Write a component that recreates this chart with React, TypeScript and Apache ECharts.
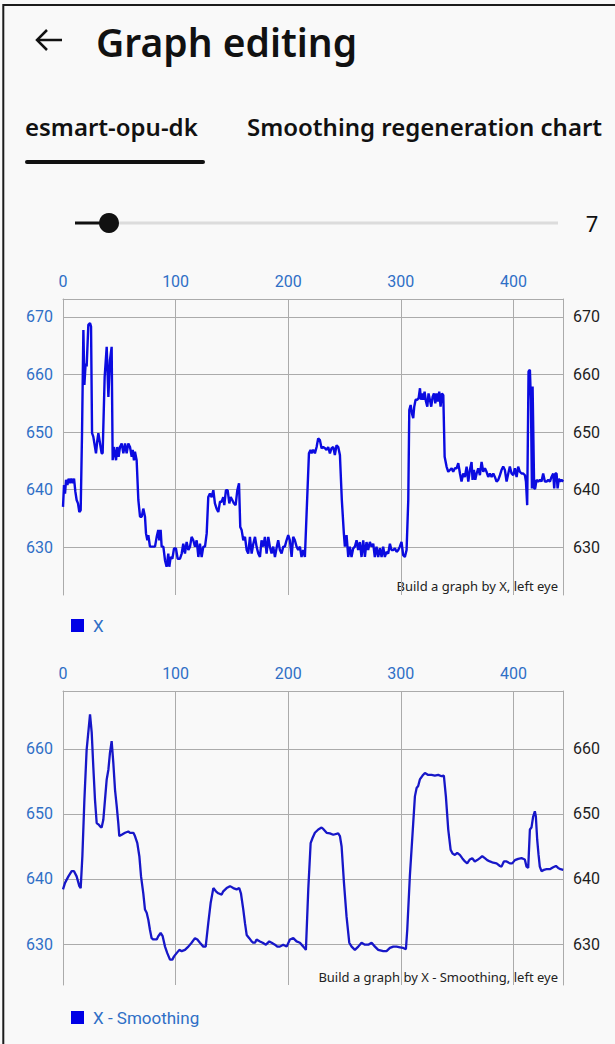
import React, { useEffect, useRef } from "react";
import * as echarts from "echarts";

// ---- Chart 1: raw X signal (x index, value) ----
const RAW_X = [
  0, 0.9, 1.8, 2.7, 3.9, 5.0, 6.2, 7.4, 8.6, 9.8, 11.0, 12.1, 13.3, 14.5, 15.7, 16.9, 18.1, 19.0, 20.1, 21.0,
  22.5, 24.0, 24.9, 25.8, 26.9, 28.4, 29.3, 30.5, 31.4, 32.9, 34.3, 35.2, 37.0, 38.8, 40.3, 41.7, 43.2, 44.1, 45.3, 47.1,
  48.2, 49.4, 50.6, 52.1, 53.6, 55.1, 56.5, 58.0, 59.5, 61.0, 61.9, 63.0, 63.9, 65.4, 66.9, 68.4, 69.9, 71.3, 72.8, 73.7,
  74.9, 75.8, 77.2, 80.2, 81.7, 83.2, 84.6, 85.5, 86.7, 87.6, 89.1, 90.6, 92.0, 93.5, 94.4, 95.6, 97.1, 98.6, 100.3, 101.8,
  103.9, 105.4, 106.8, 108.3, 109.8, 111.3, 112.8, 114.2, 115.7, 117.2, 118.7, 120.2, 121.6, 123.1, 124.6, 126.1, 127.6, 129.0, 130.5, 132.0,
  133.5, 134.9, 136.4, 137.9, 139.4, 140.9, 142.3, 143.2, 144.7, 146.2, 147.7, 148.9, 150.3, 151.8, 153.3, 154.8, 156.3, 157.4, 158.6, 160.1,
  161.6, 163.1, 164.5, 166.0, 167.5, 169.0, 170.5, 171.9, 173.4, 174.9, 176.3, 177.8, 179.3, 180.8, 182.3, 183.7, 185.2, 186.7, 188.2, 189.6,
  191.1, 192.6, 194.1, 195.6, 197.0, 198.5, 200.0, 201.5, 203.0, 204.4, 205.9, 207.4, 208.9, 210.4, 211.8, 213.3, 214.8, 216.3, 218.4, 219.8,
  220.7, 222.2, 223.7, 225.2, 226.6, 228.1, 229.6, 231.1, 232.6, 234.0, 235.5, 237.0, 238.5, 240.0, 241.4, 242.9, 244.4, 245.9, 247.6, 249.4,
  250.3, 251.8, 253.3, 254.7, 256.2, 257.7, 259.2, 260.7, 262.1, 263.6, 265.1, 266.6, 268.1, 269.5, 271.0, 272.5, 274.0, 275.5, 276.9, 278.4,
  279.9, 281.4, 282.9, 284.3, 285.8, 287.3, 288.8, 290.3, 291.7, 293.2, 294.7, 296.2, 297.7, 299.1, 300.6, 302.1, 303.6, 305.1, 306.6, 307.5,
  308.7, 309.9, 311.0, 311.9, 313.1, 314.6, 315.8, 317.0, 317.8, 319.0, 319.9, 321.1, 322.3, 323.5, 324.6, 325.8, 327.0, 328.2, 329.4, 330.6,
  331.7, 332.9, 334.1, 335.3, 336.5, 337.7, 338.9, 340.6, 342.1, 343.6, 345.1, 346.5, 348.0, 349.5, 351.0, 352.5, 353.9, 355.4, 356.9, 358.4,
  359.9, 361.3, 362.8, 363.7, 364.9, 366.1, 367.3, 368.7, 370.2, 371.7, 373.2, 374.7, 376.1, 377.6, 379.1, 380.6, 382.1, 383.5, 385.0, 386.5,
  388.0, 389.4, 390.9, 392.4, 393.9, 395.4, 396.8, 398.3, 399.8, 401.3, 402.8, 404.2, 405.7, 407.2, 408.7, 410.2, 411.1, 412.2, 413.4, 414.6,
  415.5, 416.4, 417.0, 417.6, 418.4, 419.3, 420.5, 422.0, 423.5, 424.9, 426.4, 427.9, 429.4, 430.9, 432.4, 433.8, 435.3, 436.2, 437.1, 438.3,
  439.2, 440.3, 441.5, 442.7, 444.2,
];
const RAW_Y = [
  637.0, 640.8, 639.3, 641.7, 640.8, 641.9, 641.1, 641.9, 641.1, 641.9, 639.6, 638.2, 637.6, 636.1, 636.4, 649.8, 667.7, 658.2, 661.9, 661.4,
  668.6, 668.9, 668.3, 649.8, 649.2, 647.4, 646.3, 648.6, 649.8, 648.0, 646.3, 646.3, 659.6, 664.8, 656.1, 662.5, 664.8, 645.1, 647.4, 645.1,
  647.4, 645.7, 647.4, 648.0, 646.3, 648.0, 646.3, 648.0, 647.4, 645.7, 646.9, 645.1, 646.6, 645.1, 638.2, 635.3, 635.3, 636.7, 635.3, 632.4,
  631.2, 632.1, 630.1, 630.1, 630.1, 631.8, 633.0, 631.2, 633.0, 630.1, 630.1, 627.7, 626.6, 628.9, 626.6, 628.3, 628.0, 629.8, 629.8, 628.0,
  628.0, 628.9, 630.6, 628.9, 630.9, 629.5, 630.1, 631.8, 631.2, 630.1, 631.2, 628.3, 630.6, 628.3, 630.1, 630.1, 632.4, 638.7, 639.3, 638.7,
  639.9, 637.6, 636.7, 636.1, 637.9, 637.9, 638.7, 637.3, 639.9, 639.9, 637.6, 638.7, 638.2, 637.6, 637.3, 639.9, 641.1, 633.5, 633.0, 631.2,
  631.8, 629.5, 628.9, 631.8, 628.9, 630.6, 631.8, 630.1, 628.9, 628.3, 631.2, 630.1, 631.8, 628.9, 631.8, 630.1, 628.9, 630.1, 628.3, 629.8,
  631.2, 629.5, 628.9, 630.1, 630.1, 631.2, 632.1, 631.2, 628.3, 631.8, 631.2, 630.1, 629.5, 630.1, 628.3, 629.5, 628.3, 635.8, 646.3, 646.9,
  646.3, 646.9, 646.3, 647.4, 648.9, 648.6, 647.2, 647.4, 647.2, 646.9, 647.4, 646.3, 647.2, 647.4, 646.0, 647.7, 647.4, 646.0, 638.2, 632.4,
  630.1, 632.1, 628.3, 630.1, 628.3, 629.8, 630.1, 631.2, 629.5, 630.9, 628.3, 631.2, 628.3, 630.9, 629.5, 630.9, 630.1, 630.6, 628.3, 630.1,
  628.3, 629.8, 628.3, 630.1, 628.3, 629.2, 628.9, 630.6, 629.5, 629.5, 629.8, 629.2, 629.5, 630.1, 630.9, 628.6, 628.3, 629.5, 638.2, 653.8,
  654.7, 653.2, 652.4, 654.4, 655.6, 655.6, 655.9, 657.6, 655.6, 656.7, 655.6, 657.0, 655.3, 654.4, 656.7, 655.6, 654.4, 656.1, 656.7, 655.0,
  656.7, 655.3, 657.0, 654.4, 656.7, 656.4, 645.7, 644.0, 643.1, 643.4, 643.7, 643.1, 643.7, 643.7, 644.6, 642.8, 641.4, 642.8, 642.2, 644.0,
  641.4, 643.4, 644.8, 641.7, 643.4, 641.7, 642.8, 643.7, 642.5, 644.8, 643.1, 643.7, 643.1, 642.2, 642.8, 642.2, 642.8, 642.2, 641.4, 641.7,
  642.5, 643.4, 644.0, 643.4, 641.4, 642.8, 644.0, 642.8, 642.5, 643.7, 642.2, 644.0, 643.1, 642.8, 642.8, 642.5, 641.4, 637.3, 660.5, 660.8,
  655.6, 640.2, 657.9, 657.9, 640.2, 640.2, 641.7, 641.4, 641.7, 641.4, 642.8, 641.4, 641.4, 641.7, 641.4, 642.2, 642.8, 640.2, 642.8, 642.8,
  640.2, 641.9, 641.4, 641.7, 641.4,
];

// ---- Chart 2: smoothed X signal ----
const SMOOTH_X = [
  0, 1.8, 4.8, 7.7, 9.8, 12.1, 14.5, 15.7, 17.2, 19.0, 21.0, 24.0, 25.5, 26.9, 28.4, 29.9, 31.4, 32.9, 34.3, 35.8,
  37.3, 38.8, 40.3, 41.7, 43.2, 44.7, 46.2, 47.7, 49.1, 50.0, 52.1, 55.1, 58.0, 59.5, 62.5, 63.9, 66.0, 67.8, 69.3, 71.3,
  72.8, 74.3, 75.8, 77.2, 78.7, 80.2, 83.2, 84.6, 86.7, 88.5, 90.6, 92.6, 95.0, 97.1, 98.6, 100.9, 103.3, 105.4, 108.3, 111.3,
  114.2, 117.2, 119.3, 121.6, 124.6, 126.7, 129.0, 131.1, 133.5, 135.8, 137.9, 140.9, 142.3, 145.3, 148.3, 151.2, 154.2, 156.5, 158.0, 160.1,
  161.6, 163.1, 165.4, 167.5, 169.0, 170.5, 171.9, 174.9, 177.3, 180.2, 183.2, 185.3, 188.2, 190.3, 192.6, 195.6, 198.6, 201.5, 204.5, 207.4,
  210.4, 213.4, 215.7, 217.8, 219.9, 221.6, 223.7, 226.7, 229.6, 231.1, 234.1, 237.0, 240.0, 244.4, 245.9, 247.4, 249.5, 251.8, 254.2, 256.3,
  259.2, 262.2, 265.1, 268.1, 271.1, 274.0, 277.0, 279.9, 284.4, 287.3, 290.3, 293.3, 296.2, 299.2, 302.1, 304.5, 305.7, 308.0, 311.0, 312.5,
  314.0, 315.4, 316.9, 319.3, 321.4, 324.3, 327.3, 330.2, 333.2, 336.2, 338.2, 340.0, 342.1, 344.2, 345.9, 348.0, 350.1, 352.4, 354.5, 356.9,
  358.9, 361.3, 363.4, 365.7, 367.8, 370.2, 372.3, 374.6, 376.7, 379.1, 382.0, 385.0, 388.0, 389.4, 391.5, 393.9, 396.8, 398.9, 401.3, 404.2,
  407.2, 410.1, 411.6, 413.1, 414.6, 416.0, 417.5, 419.0, 419.9, 421.1, 422.3, 423.4, 424.9, 427.0, 429.4, 432.3, 435.3, 437.7, 439.7, 441.8,
  444.2,
];
const SMOOTH_Y = [
  638.4, 639.4, 640.4, 641.2, 641.2, 640.4, 638.9, 638.6, 643.5, 652.2, 659.9, 665.3, 662.5, 657.3, 652.2, 648.6, 648.4, 648.1, 647.9, 649.1,
  652.2, 655.3, 656.8, 659.4, 661.2, 657.8, 653.7, 651.2, 648.6, 646.6, 646.8, 647.1, 647.3, 647.1, 647.1, 646.6, 645.5, 643.5, 640.4, 637.8,
  635.3, 634.8, 633.7, 632.2, 630.9, 630.7, 630.7, 631.2, 631.7, 631.2, 629.6, 628.6, 627.6, 627.6, 628.1, 628.6, 629.1, 628.9, 629.1, 629.6,
  630.2, 630.9, 630.7, 630.2, 629.6, 629.6, 633.2, 636.3, 638.6, 638.1, 637.8, 637.6, 638.1, 638.6, 638.9, 638.6, 638.4, 638.6, 637.8, 635.3,
  633.2, 631.4, 630.9, 630.4, 630.2, 630.2, 630.7, 630.4, 630.2, 629.9, 630.4, 630.2, 629.9, 629.6, 629.6, 629.9, 629.6, 630.7, 630.9, 630.4,
  630.2, 629.6, 629.1, 638.4, 645.5, 646.3, 647.1, 647.6, 647.9, 647.7, 647.1, 647.0, 646.8, 647.0, 646.6, 645.0, 639.4, 634.2, 630.2, 629.6,
  629.1, 629.6, 630.2, 629.9, 629.9, 630.2, 629.6, 629.1, 628.9, 628.9, 629.4, 629.6, 629.6, 629.5, 629.4, 629.2, 632.2, 640.4, 648.6, 652.7,
  654.0, 654.3, 655.3, 655.9, 656.3, 656.0, 656.0, 655.9, 656.0, 655.8, 655.9, 652.7, 647.6, 644.5, 643.9, 643.7, 644.0, 643.7, 643.2, 642.7,
  642.4, 643.0, 643.2, 642.7, 642.9, 643.2, 643.5, 643.2, 642.9, 642.7, 642.5, 642.4, 642.0, 641.9, 642.7, 642.7, 642.4, 642.4, 642.9, 643.1,
  643.2, 643.0, 641.9, 641.7, 647.6, 647.9, 649.6, 650.4, 649.6, 646.0, 643.7, 641.9, 641.2, 641.4, 641.5, 641.5, 641.8, 642.0, 641.7, 641.5,
  641.4,
];

const X_TICKS = [0, 100, 200, 300, 400];
const Y1_TICKS = [630, 640, 650, 660, 670];
const Y2_TICKS = [630, 640, 650, 660];
const SERIES_NAMES = ["X", "X - Smoothing"];
const NOTES = ["Build a graph by X, left eye", "Build a graph by X - Smoothing, left eye"];
const TABS = ["esmart-opu-dk", "Smoothing regeneration chart"];
const TITLE = "Graph editing";
const SLIDER_VALUE = "7";

const BLUE_LABEL = "#2f6fc6";
const GRID_GRAY = "#ababab";
const FONT = "Roboto";

function zip(xs: number[], ys: number[]) {
  return xs.map((x, i) => [x, ys[i]]);
}

export default function App() {
  const ref = useRef<HTMLDivElement>(null);
  useEffect(() => {
    if (!ref.current) return;
    const chart = echarts.init(ref.current, null, { renderer: "svg" });

    const xAxisBase = (gridIndex: number) => ({
      type: "value",
      gridIndex,
      position: "top",
      min: 0,
      max: 444,
      interval: 100,
      axisLine: { show: true, lineStyle: { color: GRID_GRAY, width: 1 } },
      axisTick: { show: false, customValues: X_TICKS },
      axisLabel: {
        color: BLUE_LABEL,
        fontSize: 16,
        fontFamily: FONT,
        margin: 10,
        customValues: X_TICKS,
      },
      splitLine: { show: true, lineStyle: { color: GRID_GRAY, width: 1 } },
    });

    const yLeft = (gridIndex: number, min: number, max: number, ticks: number[]) => ({
      type: "value",
      gridIndex,
      position: "left",
      min,
      max,
      axisLine: { show: true, lineStyle: { color: GRID_GRAY, width: 1 } },
      axisTick: { show: false, customValues: ticks },
      axisLabel: {
        color: BLUE_LABEL,
        fontSize: 16,
        fontFamily: FONT,
        margin: 10,
        customValues: ticks,
      },
      splitLine: { show: true, lineStyle: { color: GRID_GRAY, width: 1 } },
    });

    const yRight = (gridIndex: number, min: number, max: number, ticks: number[]) => ({
      type: "value",
      gridIndex,
      position: "right",
      min,
      max,
      axisLine: { show: true, lineStyle: { color: GRID_GRAY, width: 1 } },
      axisTick: { show: false, customValues: ticks },
      axisLabel: {
        color: "#1e1e1e",
        fontSize: 16,
        fontFamily: FONT,
        margin: 10,
        customValues: ticks,
      },
      splitLine: { show: false },
    });

    const legendBase = (name: string, top: number) => ({
      data: [name],
      left: 71,
      top,
      itemWidth: 13,
      itemHeight: 13,
      icon: "rect",
      padding: 0,
      textStyle: { color: BLUE_LABEL, fontSize: 17, fontFamily: FONT, padding: [0, 0, 0, 4] },
    });

    chart.setOption({
      animation: false,
      backgroundColor: "#f9f9f9",
      grid: [
        { left: 63, right: 52, top: 299, height: 296 },
        { left: 63, right: 52, top: 691, height: 294 },
      ],
      xAxis: [xAxisBase(0), xAxisBase(1)],
      yAxis: [
        yLeft(0, 621.7, 673.1, Y1_TICKS),
        yRight(0, 621.7, 673.1, Y1_TICKS),
        yLeft(1, 623.7, 668.9, Y2_TICKS),
        yRight(1, 623.7, 668.9, Y2_TICKS),
      ],
      legend: [legendBase(SERIES_NAMES[0], 617), legendBase(SERIES_NAMES[1], 1009)],
      series: [
        {
          name: SERIES_NAMES[0],
          type: "line",
          xAxisIndex: 0,
          yAxisIndex: 0,
          data: zip(RAW_X, RAW_Y),
          showSymbol: false,
          symbol: "none",
          color: "#0000e6",
          lineStyle: { color: "#0b0be0", width: 2.4 },
        },
        {
          name: SERIES_NAMES[1],
          type: "line",
          xAxisIndex: 1,
          yAxisIndex: 2,
          data: zip(SMOOTH_X, SMOOTH_Y),
          showSymbol: false,
          symbol: "none",
          color: "#0000e6",
          lineStyle: { color: "#1717c8", width: 2.3 },
        },
      ],
      graphic: [
        {
          type: "polyline",
          shape: { points: [[3.3, 1044], [3.3, 5], [615, 5]] },
          style: { stroke: "#1c1c1c", lineWidth: 2, fill: null },
          silent: true,
        },
        {
          type: "polyline",
          shape: { points: [[47, 30], [37, 40], [47, 50]] },
          style: { stroke: "#111", lineWidth: 2.5, fill: null },
        },
        {
          type: "line",
          shape: { x1: 37, y1: 40, x2: 62, y2: 40 },
          style: { stroke: "#111", lineWidth: 2.5 },
        },
        {
          type: "text",
          x: 96,
          y: 41,
          style: {
            text: TITLE,
            font: "600 39px 'Noto Sans'",
            fill: "#111",
            textVerticalAlign: "middle",
          },
        },
        {
          type: "text",
          x: 25,
          y: 126,
          style: {
            text: TABS[0],
            font: "600 24px 'Noto Sans'",
            fill: "#111",
            textVerticalAlign: "middle",
          },
        },
        {
          type: "text",
          x: 247,
          y: 126,
          style: {
            text: TABS[1],
            font: "600 24px 'Noto Sans'",
            fill: "#111",
            textVerticalAlign: "middle",
          },
        },
        {
          type: "rect",
          shape: { x: 25, y: 160, width: 180, height: 4, r: 2 },
          style: { fill: "#111" },
        },
        {
          type: "line",
          shape: { x1: 109, y1: 223, x2: 558, y2: 223 },
          style: { stroke: "#dcdcdc", lineWidth: 3 },
        },
        {
          type: "line",
          shape: { x1: 75, y1: 223, x2: 109, y2: 223 },
          style: { stroke: "#111", lineWidth: 3 },
        },
        {
          type: "circle",
          shape: { cx: 109, cy: 223, r: 10 },
          style: { fill: "#111" },
        },
        {
          type: "text",
          x: 592,
          y: 223,
          style: {
            text: SLIDER_VALUE,
            font: "400 22px 'Noto Sans'",
            fill: "#111",
            textAlign: "center",
            textVerticalAlign: "middle",
          },
        },
        {
          type: "text",
          x: 558,
          y: 586,
          style: {
            text: NOTES[0],
            font: "400 13px 'Noto Sans'",
            fill: "#222",
            textAlign: "right",
            textVerticalAlign: "middle",
          },
        },
        {
          type: "text",
          x: 558,
          y: 977,
          style: {
            text: NOTES[1],
            font: "400 13px 'Noto Sans'",
            fill: "#222",
            textAlign: "right",
            textVerticalAlign: "middle",
          },
        },
      ],
    });
    return () => chart.dispose();
  }, []);

  return (
    <div
      ref={ref}
      style={{ position: "fixed", left: 0, top: 0, width: 615, height: 1044 }}
    />
  );
}
